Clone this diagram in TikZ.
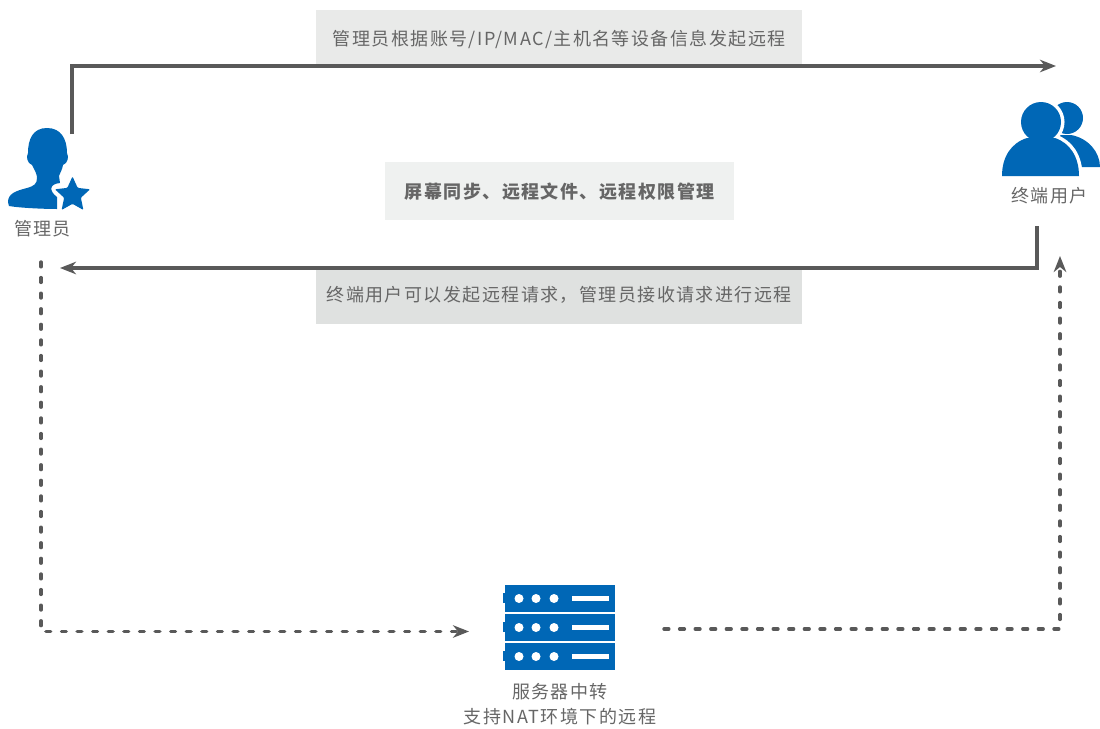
\documentclass[tikz,border=0pt]{standalone}
\usepackage{fontspec}
\setmainfont{Noto Sans CJK SC}[LetterSpace=8]
\usetikzlibrary{arrows.meta,shapes.geometric}
\definecolor{iconblue}{HTML}{0067B6}
\definecolor{linegrey}{HTML}{595959}
\definecolor{textgrey}{HTML}{666666}
\definecolor{bannertop}{HTML}{E9EAE9}
\definecolor{bannermid}{HTML}{EFF1F0}
\definecolor{bannerbot}{HTML}{DFE1E0}
\tikzstyle{line} = [draw=linegrey, line width=3.4pt, line join=miter, -{Stealth[length=16pt,width=12.5pt,inset=5pt]}]
\tikzstyle{dotline} = [draw=linegrey, line width=3.4pt, line cap=round, dash pattern=on 4.8pt off 10.8pt, -{Stealth[length=16pt,width=12.5pt,inset=5pt]}]
\tikzstyle{banner} = [rectangle, inner sep=0pt, text=textgrey, font=\fontsize{18}{18}\selectfont, text height=14.6pt, text depth=0pt, anchor=north west]
\tikzstyle{caption} = [inner sep=0pt, text=textgrey, font=\fontsize{18}{18}\selectfont, text height=14.6pt, text depth=0pt]
\tikzstyle{icon} = [fill=iconblue, draw=none]
\begin{document}
\begin{tikzpicture}[x=1pt, y=-1pt]
\useasboundingbox (0,0) rectangle (1100,728);

\node [banner, fill=bannertop, minimum width=486pt, minimum height=55pt] (banner_top) at (316,10) {管理员根据账号/IP/MAC/主机名等设备信息发起远程};
\node [banner, fill=bannermid, minimum width=349pt, minimum height=58pt, font=\fontsize{18}{18}\selectfont\bfseries] (banner_mid) at (385,162) {屏幕同步、远程文件、远程权限管理};
\node [banner, fill=bannerbot, minimum width=486pt, minimum height=56pt, text height=10pt] (banner_bot) at (316,268) {终端用户可以发起远程请求，管理员接收请求进行远程};

\path [icon] (47,128) .. controls (33,128) and (28,139) .. (28,153) .. controls (26,157) and (27,163) .. (32,165) .. controls (35,171) and (37,174) .. (37,178) .. controls (37,184) and (34,186) .. (27,188) .. controls (15,191) and (8,194) .. (8,202) -- (9,206) .. controls (20,208) and (45,209) .. (57,209) -- (57,197) .. controls (49,191) and (49,184) .. (60,183) -- (59,176) .. controls (61,171) and (62,170) .. (63,165) .. controls (68,163) and (69,157) .. (67,153) .. controls (67,139) and (61,128) .. (47,128) -- cycle;
\node [icon, star, star points=5, star point ratio=2.1, minimum size=37pt, inner sep=0pt, rounded corners=1pt] (admin_star) at (72.5,195) {};
\node [caption] (admin_label) at (42.5,228) {管理员};

\fill [iconblue] (1067,118) circle [radius=16];
\path [icon] (1071,135) .. controls (1088,138) and (1100,152) .. (1100,167) -- (1060,167) -- (1060,135) -- cycle;
\path [draw=white, line width=7pt] (1041,122) circle [radius=20];
\path [draw=white, line width=7pt] (1027,138) .. controls (1011,143) and (1002,157) .. (1002,176) -- (1079,176) .. controls (1079,157) and (1070,143) .. (1055,138) -- cycle;
\fill [iconblue] (1041,122) circle [radius=20];
\path [icon] (1027,138) .. controls (1011,143) and (1002,157) .. (1002,176) -- (1079,176) .. controls (1079,157) and (1070,143) .. (1055,138) -- cycle;
\node [caption] (user_label) at (1049.5,195) {终端用户};

\foreach \row/\top in {a/585, b/614, c/643} {
  \fill [iconblue] (505,\top) rectangle ++(110,26.5);
  \fill [iconblue] (503,\top+8) rectangle ++(2,10);
  \foreach \dotx in {519,536,554} {
    \fill [white] (\dotx,\top+13.5) circle [radius=4.5];
  }
  \fill [white] (572,\top+11) rectangle ++(37,5);
}
\node [caption] (server_label) at (560,691) {服务器中转};
\node [caption, below of=server_label, node distance=25pt] (server_note) {支持NAT环境下的远程};

\coordinate (admin_out) at (72,134);
\coordinate (user_in) at (1056,66);
\coordinate (user_out) at (1037,226);
\coordinate (admin_in) at (60,268);
\coordinate (admin_down) at (41,262);
\coordinate (server_in) at (469,631.5);
\coordinate (server_out) at (664,629);
\coordinate (user_up) at (1060,256);

\path [line] (admin_out) |- (user_in);
\path [line] (user_out) |- (admin_in);
\path [dotline] (admin_down) |- (server_in);
\path [dotline] (server_out) -| (user_up);

\end{tikzpicture}
\end{document}
